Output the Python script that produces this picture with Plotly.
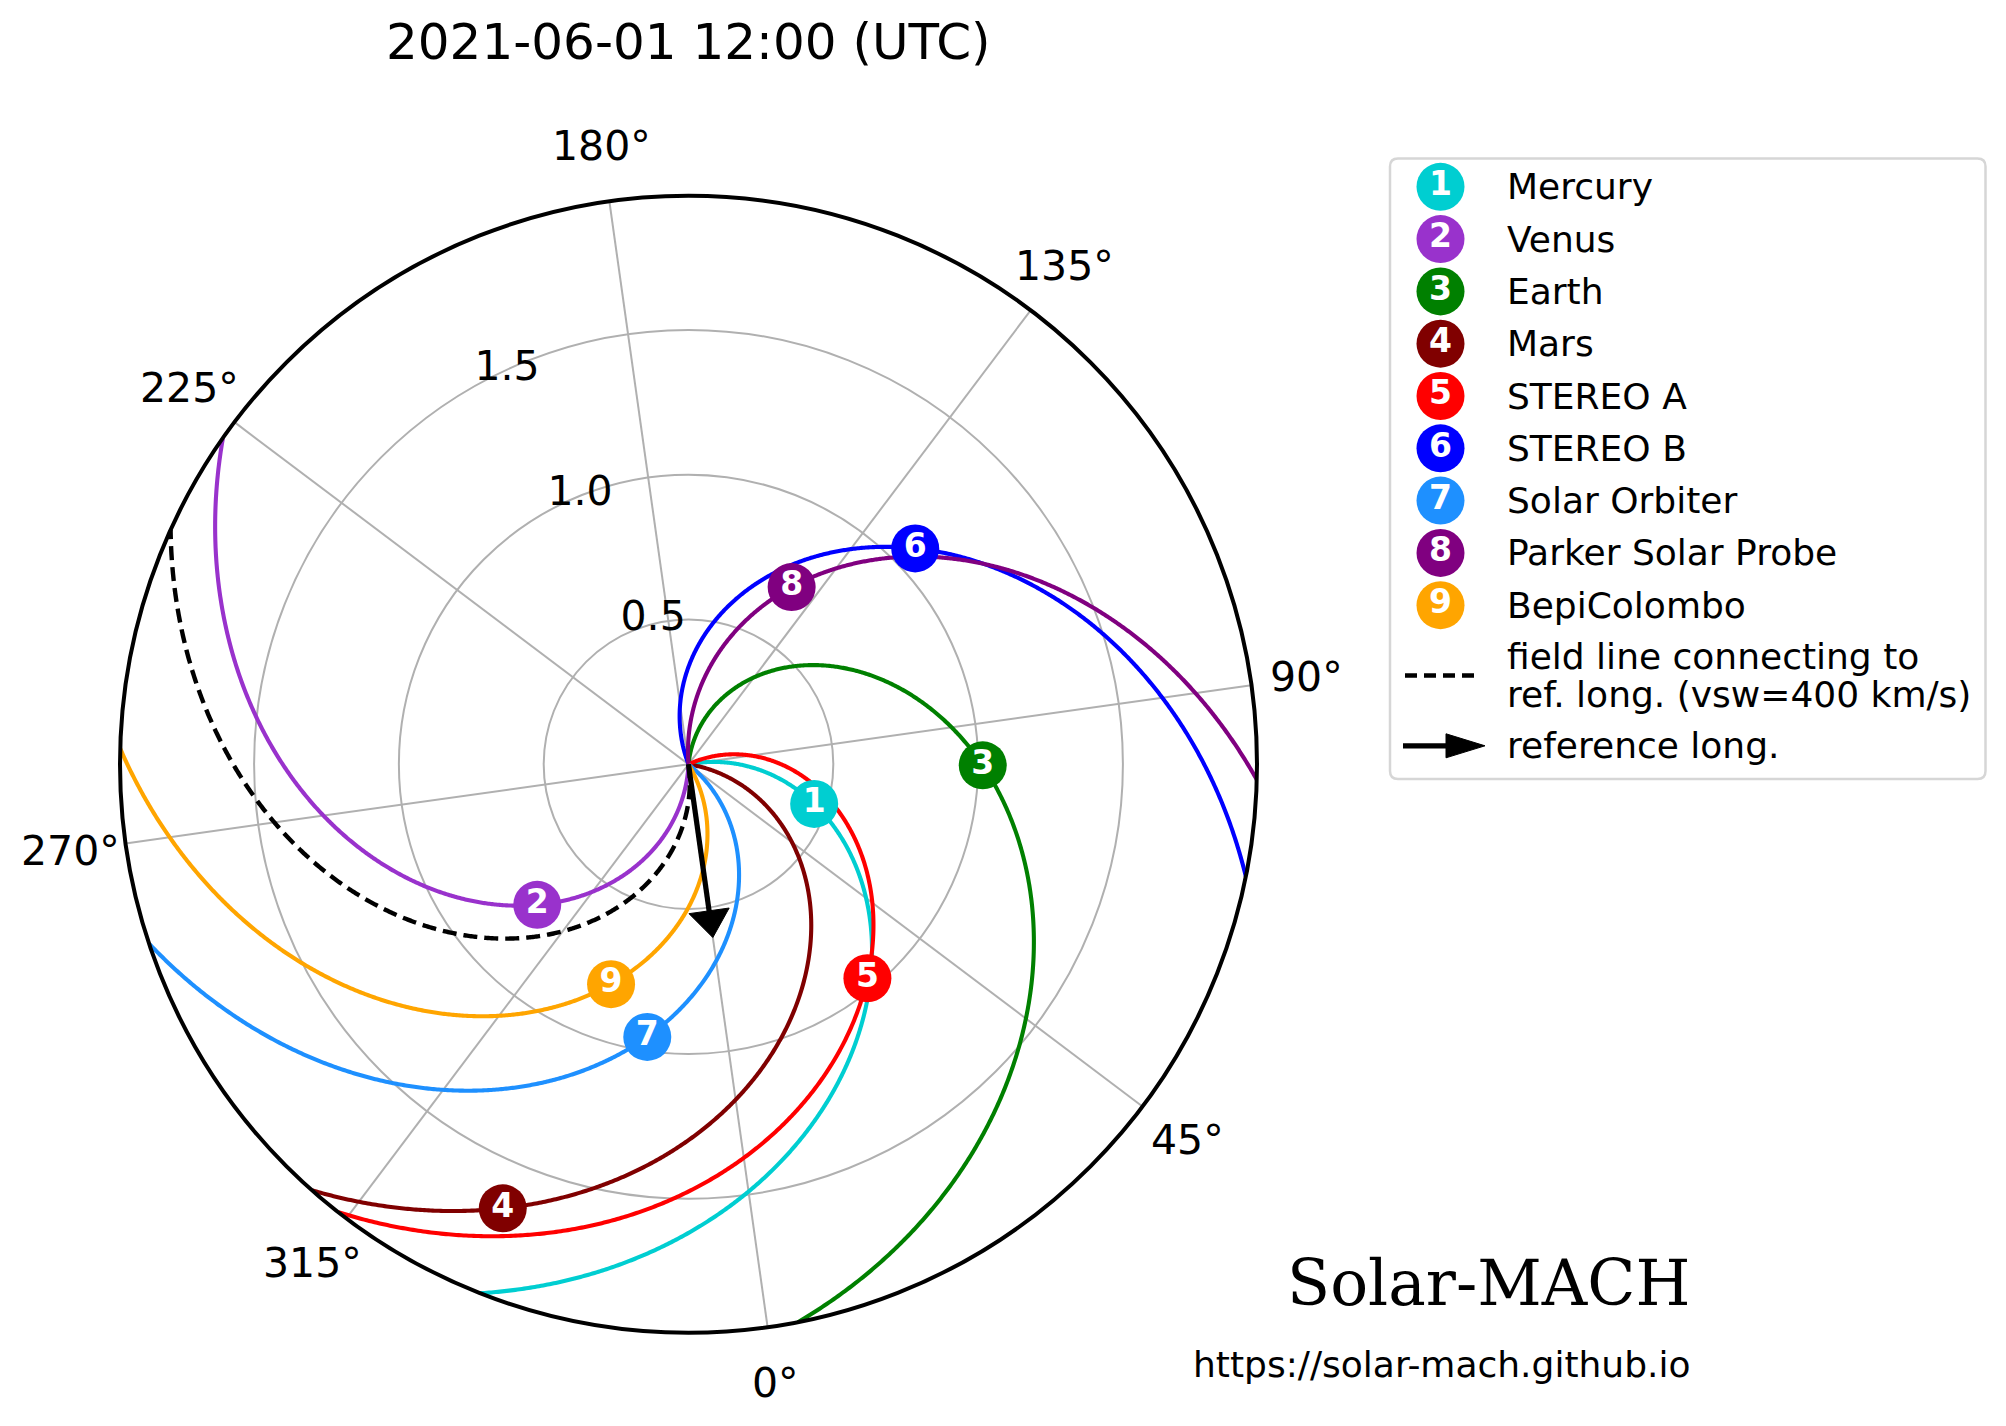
import numpy as np
import plotly.graph_objects as go

# ---------------- data ----------------
title_text = "2021-06-01 12:00 (UTC)"

body_names = ["Mercury", "Venus", "Earth", "Mars", "STEREO A", "STEREO B",
              "Solar Orbiter", "Parker Solar Probe", "BepiColombo"]
body_numbers = ["1", "2", "3", "4", "5", "6", "7", "8", "9"]
body_colors = ["#00CED1", "#9932CC", "#008000", "#800000", "#FF0000",
               "#0000FF", "#1E90FF", "#800080", "#FFA500"]
body_r_au = [0.455, 0.713, 1.016, 1.662, 0.963, 1.081, 0.952, 0.708, 0.805]
body_lon_deg = [64.5, 304.9, 81.8, 329.3, 31.9, 125.6, 343.4, 141.8, 332.6]
body_vsw_kms = [400, 400, 300, 400, 320, 400, 400, 510, 400]

ref_long_deg = 0.0
ref_vsw_kms = 400
ref_arrow_tip_au = 0.604

r_max_au = 1.963
radial_ticks_au = [0.5, 1.0, 1.5]
radial_tick_labels = ["0.5", "1.0", "1.5"]
angle_ticks_deg = [0, 45, 90, 135, 180, 225, 270, 315]
angle_tick_labels = ["0°", "45°", "90°", "135°", "180°", "225°", "270°", "315°"]

legend_ref_text = ["field line connecting to", "ref. long. (vsw=400 km/s)"]
legend_arrow_text = "reference long."
logo_text = "Solar-MACH"
url_text = "https://solar-mach.github.io"

# ---------------- model constants ----------------
SUN_ROT_DEG_PER_DAY = 14.4
AU_KM = 1.495978707e8


def spiral_slope(vsw):
    """Parker spiral winding in degrees per AU for a given wind speed."""
    return SUN_ROT_DEG_PER_DAY / 86400.0 * AU_KM / vsw


# ---------------- geometry / style ----------------
W, H = 2006, 1426
CX, CY, RPX = 688.5, 764.3, 568.5       # polar centre & radius in px
ROT = -82.0                             # screen angle of theta = 0
PX_PER_AU = RPX / r_max_au
FONT = "DejaVu Sans"
LINE_W = 4.1
MK_SIZE = 48
NUM_FONT = 33

fig = go.Figure()

# field lines of the bodies
r_line = np.linspace(0.0, r_max_au, 600)
for name, col, r0, lon0, v in zip(body_names, body_colors, body_r_au,
                                  body_lon_deg, body_vsw_kms):
    th = lon0 + spiral_slope(v) * (r0 - r_line)
    fig.add_trace(go.Scatterpolar(r=r_line, theta=th, mode="lines",
                                  line=dict(color=col, width=LINE_W),
                                  hoverinfo="skip", showlegend=False))

# reference field line (dashed)
th_ref = ref_long_deg - spiral_slope(ref_vsw_kms) * r_line
fig.add_trace(go.Scatterpolar(r=r_line, theta=th_ref, mode="lines",
                              line=dict(color="black", width=4.4, dash="14px,7px"),
                              hoverinfo="skip", showlegend=False))

# reference arrow
head_len_au = 0.093
head_half_au = 0.070
base_au = ref_arrow_tip_au - head_len_au
fig.add_trace(go.Scatterpolar(r=[0.0, base_au + 0.01], theta=[ref_long_deg, ref_long_deg],
                              mode="lines", line=dict(color="black", width=5.2),
                              hoverinfo="skip", showlegend=False))
corner_r = float(np.hypot(base_au, head_half_au))
corner_dt = float(np.degrees(np.arctan2(head_half_au, base_au)))
fig.add_trace(go.Scatterpolar(
    r=[ref_arrow_tip_au, corner_r, corner_r, ref_arrow_tip_au],
    theta=[ref_long_deg, ref_long_deg + corner_dt, ref_long_deg - corner_dt, ref_long_deg],
    mode="lines", fill="toself", fillcolor="black",
    line=dict(color="black", width=1), hoverinfo="skip", showlegend=False))

# body markers
fig.add_trace(go.Scatterpolar(
    r=body_r_au, theta=body_lon_deg, mode="markers+text",
    marker=dict(color=body_colors, size=MK_SIZE, line=dict(width=0)),
    text=body_numbers, textposition="middle center",
    textfont=dict(family=FONT, size=NUM_FONT, color="white", weight="bold"),
    hovertext=body_names, hoverinfo="text", showlegend=False))

# radial tick labels (matplotlib-like offset from the label ray)
rl_screen = 120.3
along = np.array(radial_ticks_au) * PX_PER_AU - 2.0
perp = 42.5
rl_r = np.hypot(along, perp) / PX_PER_AU
rl_th = rl_screen - np.degrees(np.arctan2(perp, along)) - ROT
fig.add_trace(go.Scatterpolar(
    r=rl_r, theta=rl_th, mode="text", text=radial_tick_labels,
    textposition="middle center",
    textfont=dict(family=FONT, size=41, color="black"),
    cliponaxis=False, hoverinfo="skip", showlegend=False))

annotations = []

# angular tick labels, placed just outside the polar frame
LAB_R_PX = 624.5
for ang, lab in zip(angle_ticks_deg, angle_tick_labels):
    a = np.radians(ROT + ang)
    annotations.append(dict(x=CX + LAB_R_PX * np.cos(a), y=CY - LAB_R_PX * np.sin(a),
                            xref="x", yref="y", text=lab, showarrow=False,
                            xanchor="center", yanchor="middle",
                            font=dict(family=FONT, size=41, color="black")))

# ---------------- manual legend (pixel cartesian axes) ----------------
LX0, LX1, LY0, LY1 = 1390.0, 1985.5, 158.6, 779.0
row_top, row_step = 186.8, 52.3
rows = [row_top + i * row_step for i in range(len(body_names))]
mk_x = 1440.5
tx_x = 1505.0
LEG_FONT = 36

rr = 8.0
frame_path = (f"M {LX0+rr},{LY0} L {LX1-rr},{LY0} Q {LX1},{LY0} {LX1},{LY0+rr} "
              f"L {LX1},{LY1-rr} Q {LX1},{LY1} {LX1-rr},{LY1} L {LX0+rr},{LY1} "
              f"Q {LX0},{LY1} {LX0},{LY1-rr} L {LX0},{LY0+rr} Q {LX0},{LY0} {LX0+rr},{LY0} Z")
shapes = [dict(type="path", path=frame_path, xref="x", yref="y",
               line=dict(color="#d6d6d6", width=2.5), fillcolor="white", layer="below")]

fig.add_trace(go.Scatter(
    x=[mk_x] * len(body_names), y=rows, mode="markers+text",
    marker=dict(color=body_colors, size=MK_SIZE, line=dict(width=0)),
    text=body_numbers, textposition="middle center",
    textfont=dict(family=FONT, size=NUM_FONT, color="white", weight="bold"),
    hoverinfo="skip", showlegend=False, cliponaxis=False, xaxis="x", yaxis="y"))

for name, y in zip(body_names, rows):
    annotations.append(dict(x=tx_x, y=y, xref="x", yref="y", text=name,
                            showarrow=False, xanchor="left", yanchor="middle",
                            font=dict(family=FONT, size=LEG_FONT, color="black")))

dash_y = 675.5
annotations.append(dict(x=tx_x, y=656.3, xref="x", yref="y", text=legend_ref_text[0],
                        showarrow=False, xanchor="left", yanchor="middle",
                        font=dict(family=FONT, size=LEG_FONT, color="black")))
annotations.append(dict(x=tx_x, y=694.7, xref="x", yref="y", text=legend_ref_text[1],
                        showarrow=False, xanchor="left", yanchor="middle",
                        font=dict(family=FONT, size=LEG_FONT, color="black")))
shapes.append(dict(type="line", x0=1405, x1=1480, y0=dash_y, y1=dash_y, xref="x", yref="y",
                   line=dict(color="black", width=4.4, dash="12px,7px")))

arr_y = 745.8
annotations.append(dict(x=tx_x, y=arr_y, xref="x", yref="y", text=legend_arrow_text,
                        showarrow=False, xanchor="left", yanchor="middle",
                        font=dict(family=FONT, size=LEG_FONT, color="black")))
shapes.append(dict(type="line", x0=1403, x1=1452, y0=arr_y, y1=arr_y, xref="x", yref="y",
                   line=dict(color="black", width=5.2)))
shapes.append(dict(type="path", xref="x", yref="y",
                   path=f"M 1446,{arr_y-12} L 1485,{arr_y} L 1446,{arr_y+12} Z",
                   fillcolor="black", line=dict(color="black", width=1)))

# title and logo texts
annotations.append(dict(x=CX / W, y=1 - 42 / H, xref="paper", yref="paper", text=title_text,
                        showarrow=False, xanchor="center", yanchor="middle",
                        font=dict(family=FONT, size=50, color="black")))
annotations.append(dict(x=1692 / W, y=1 - 1283 / H, xref="paper", yref="paper", text=logo_text,
                        showarrow=False, xanchor="right", yanchor="middle",
                        font=dict(family="DejaVu Serif", size=63, color="black")))
annotations.append(dict(x=1692 / W, y=1 - 1364 / H, xref="paper", yref="paper", text=url_text,
                        showarrow=False, xanchor="right", yanchor="middle",
                        font=dict(family=FONT, size=36, color="black")))

fig.update_layout(
    width=W, height=H, margin=dict(l=0, r=0, t=0, b=0),
    paper_bgcolor="white", plot_bgcolor="rgba(0,0,0,0)",
    showlegend=False,
    xaxis=dict(range=[0, W], domain=[0, 1], visible=False, fixedrange=True),
    yaxis=dict(range=[H, 0], domain=[0, 1], visible=False, fixedrange=True),
    polar=dict(
        domain=dict(x=[(CX - RPX) / W, (CX + RPX) / W],
                    y=[(H - CY - RPX) / H, (H - CY + RPX) / H]),
        bgcolor="white",
        radialaxis=dict(range=[0, r_max_au], tickvals=radial_ticks_au,
                        showticklabels=False, ticks="", showline=False,
                        gridcolor="#b0b0b0", gridwidth=1.7),
        angularaxis=dict(rotation=ROT, direction="counterclockwise",
                         thetaunit="degrees", tickvals=angle_ticks_deg,
                         showticklabels=False, ticks="",
                         gridcolor="#b0b0b0", gridwidth=1.7,
                         showline=True, linecolor="black", linewidth=4),
    ),
    shapes=shapes, annotations=annotations,
)

fig.write_html("out.html")
